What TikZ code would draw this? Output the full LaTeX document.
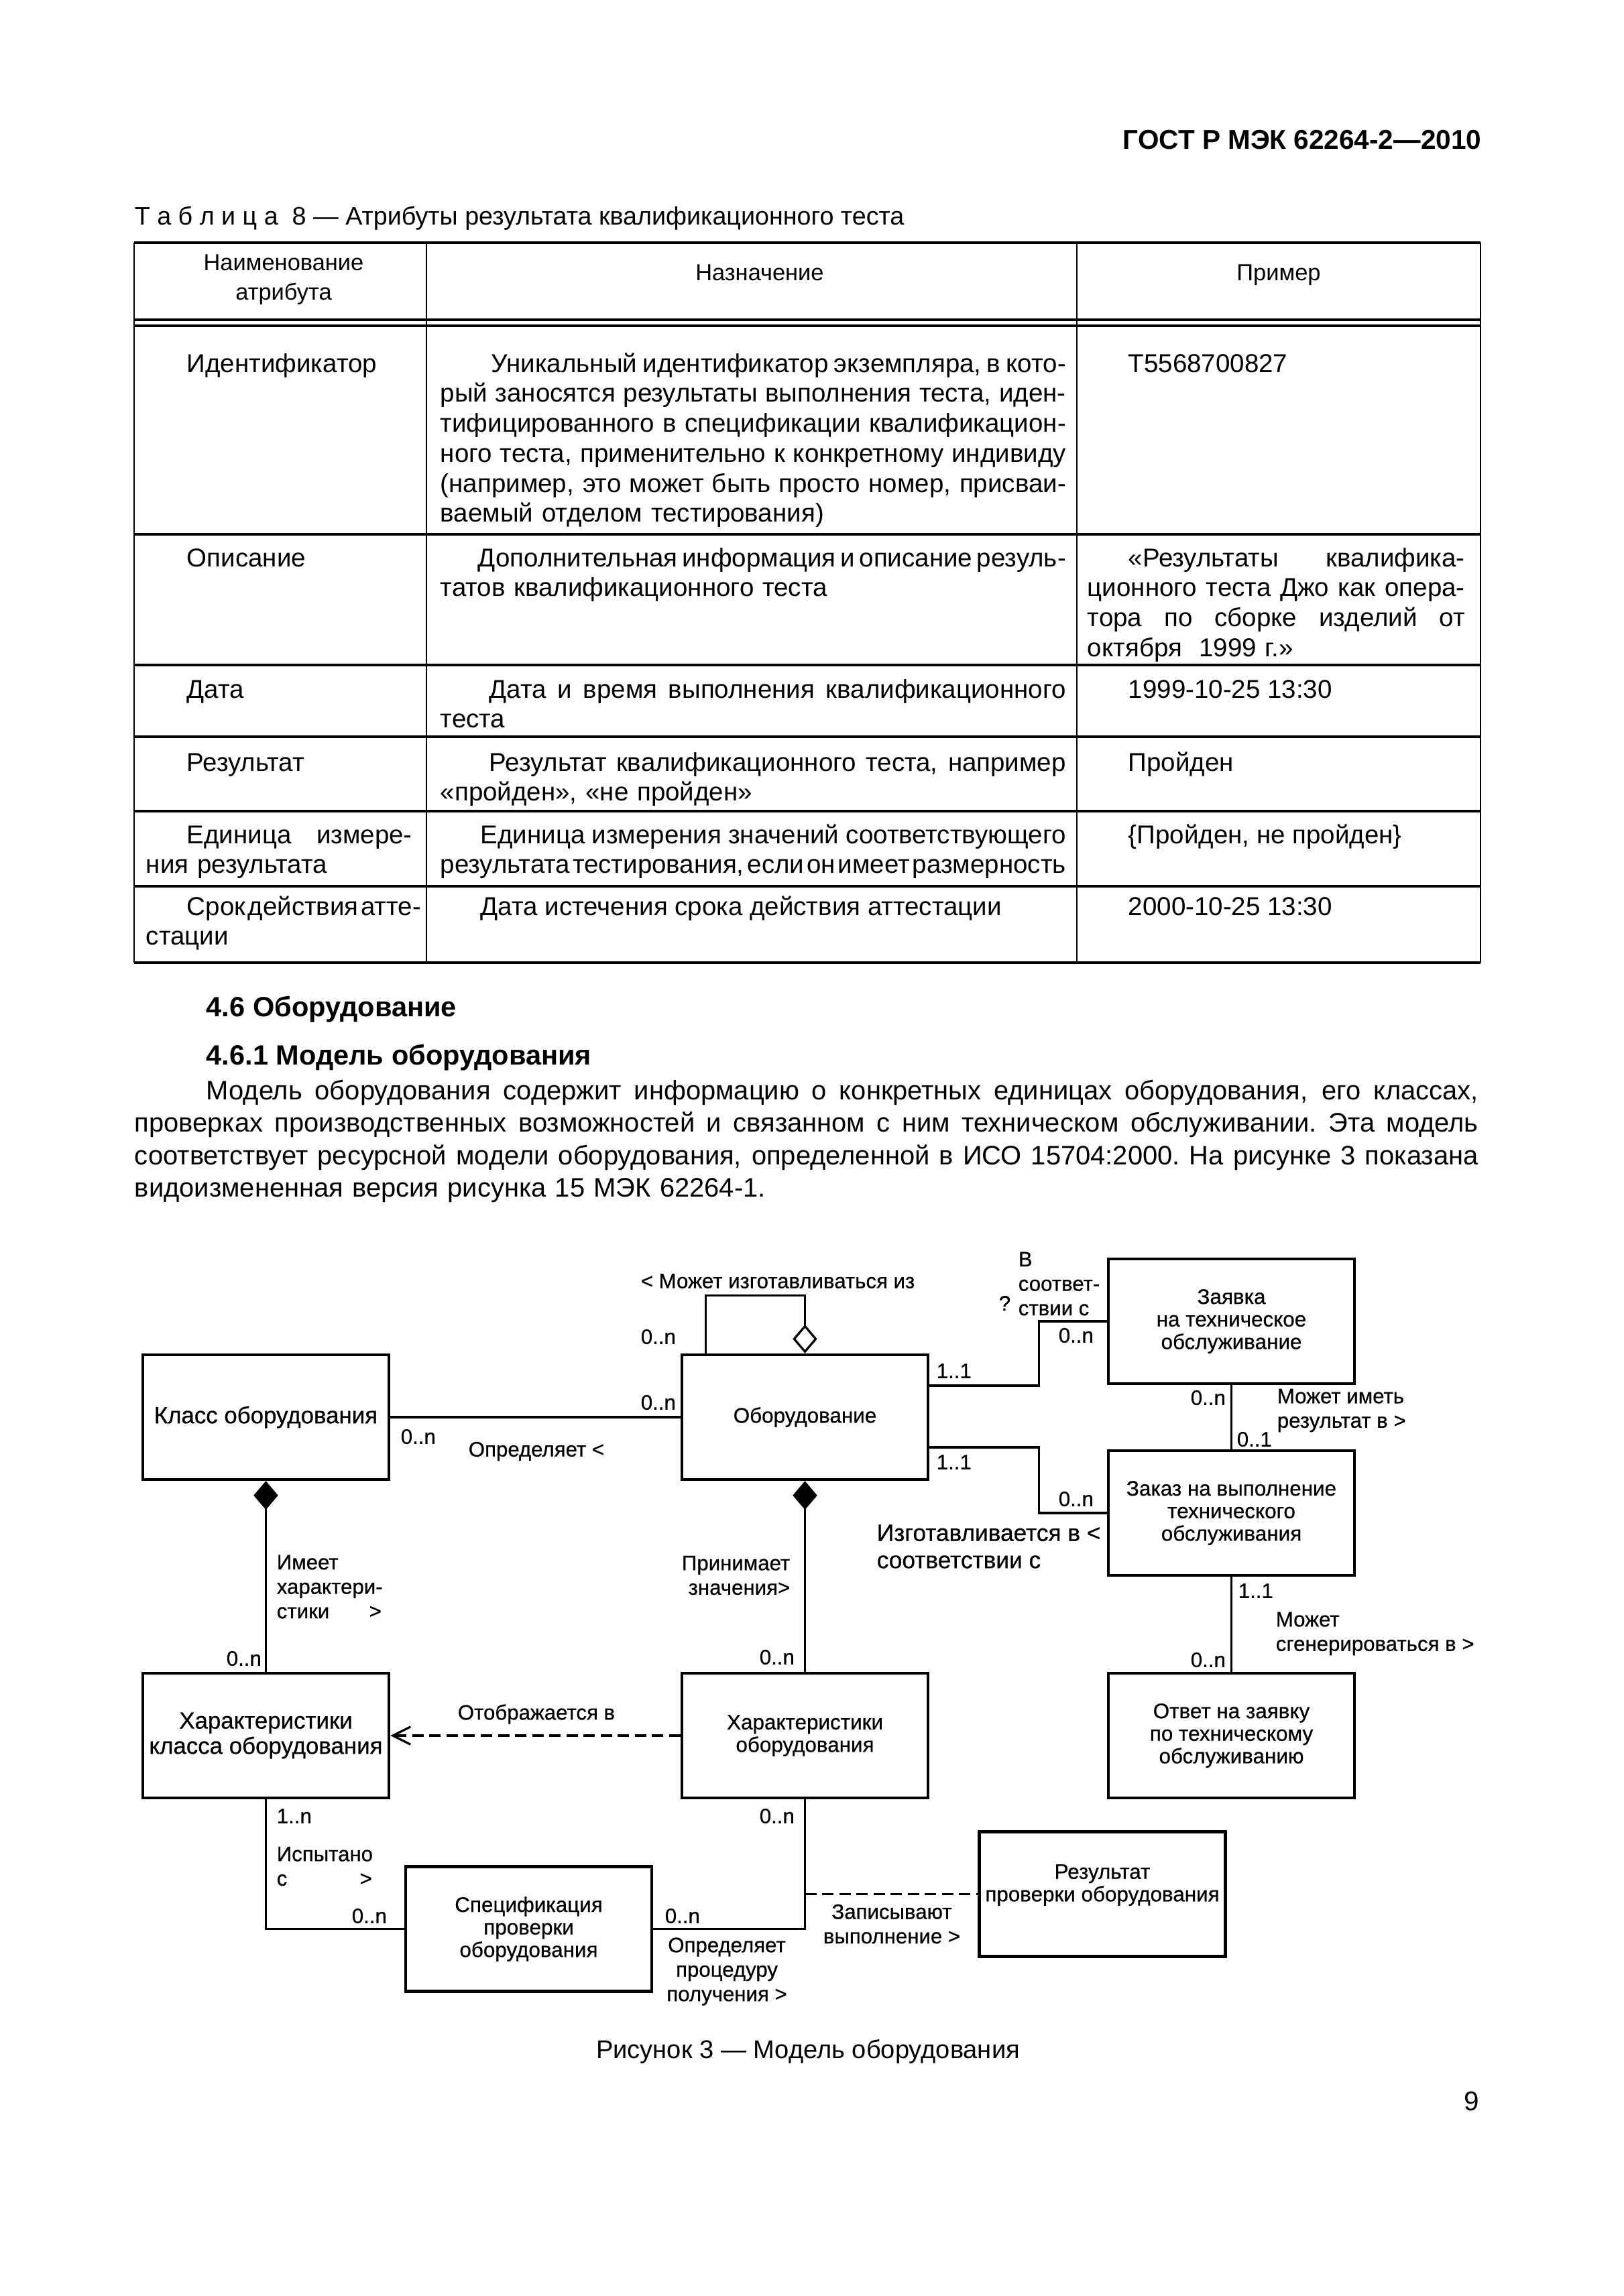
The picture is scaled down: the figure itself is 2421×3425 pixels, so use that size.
\documentclass[tikz,border=0pt]{standalone}
\usepackage{fontspec}
\setmainfont{Liberation Sans}
\newfontfamily\diafont[FakeBold=0.6]{Liberation Sans}
\usetikzlibrary{arrows.meta,calc}
\newlength\pxu \setlength\pxu{0.08674mm}
% justified lines of the table columns and of the text
\newcommand\jfill{\spaceskip=0.25em plus 1fill minus 0.16em\relax\xspaceskip=\spaceskip\relax}
\newcommand\ja[1]{\makebox[397\pxu][s]{\jfill#1}}
\newcommand\jb[1]{\makebox[933\pxu][s]{\jfill#1}}
\newcommand\jc[1]{\makebox[563\pxu][s]{\jfill#1}}
\newcommand\jw[1]{\makebox[2004\pxu][s]{\jfill#1}}
\tikzset{
  txt/.style={inner sep=0pt, anchor=base west},
  cell/.style={txt, align=left, font=\fontsize{9.5}{11.05}\selectfont},
  hcell/.style={inner sep=0pt, anchor=base, align=center, text width=436\pxu, font=\fontsize{8.5}{11.05}\selectfont},
  rule/.style={line width=0.9pt},
  vrule/.style={line width=0.6pt},
  cls/.style={draw, line width=1.1pt, minimum width=367\pxu, minimum height=186\pxu,
    inner sep=0pt, align=center, font=\diafont\fontsize{7.75}{8.3}\selectfont},
  bigcls/.style={cls, font=\diafont\fontsize{8.6}{9.3}\selectfont},
  lbl/.style={inner sep=0pt, anchor=west, align=left, font=\diafont\fontsize{7.7}{9}\selectfont},
  assoc/.style={line width=0.8pt},
  cmp/.style={assoc, {Diamond[length=10.6pt,width=9pt]}-},
  agg/.style={assoc, -{Diamond[open,length=10.6pt,width=9pt]}},
  dep/.style={assoc, dash pattern=on 4.2pt off 2.1pt}
}
\begin{document}
\begin{tikzpicture}[x=0.08674mm, y=-0.08674mm]
\fill[white] (0,0) rectangle (2421,3425);
\useasboundingbox (0,0) rectangle (2421,3425);

\node[anchor=base east, inner sep=0pt, font=\bfseries\fontsize{10}{12}\selectfont] (gost) at (2210,222) {ГОСТ Р МЭК 62264-2—2010};

% table 8
\node[txt, font=\fontsize{9.3}{12}\selectfont] (tcap) at (200,335) {Т а б л и ц а\ \ 8 — Атрибуты результата квалификационного теста};
\draw[rule] (200,362) -- (2208,362);
\draw[rule] (200,477) -- (2208,477);
\draw[rule] (200,486) -- (2208,486);
\foreach \y in {797,992,1099,1210,1322,1436}
  \draw[rule] (200,\y) -- (2208,\y);
\foreach \x in {200,636,1606,2208}
  \draw[vrule] (\x,362) -- (\x,1436);
\node[hcell] (hname) at (423,403) {Наименование\\атрибута};
\node[hcell] (hpurp) at (1133,418) {Назначение};
\node[hcell] (hexam) at (1907,418) {Пример};

\node[cell] (a1) at (278,555) {Идентификатор};
\node[cell, text width=933\pxu] (b1) at (656,555) {\jb{\hspace*{76\pxu}Уникальный идентификатор экземпляра, в кото-}\\
  \jb{рый заносятся результаты выполнения теста, иден-}\\
  \jb{тифицированного в спецификации квалификацион-}\\
  \jb{ного теста, применительно к конкретному индивиду}\\
  \jb{(например, это может быть просто номер, присваи-}\\
  ваемый отделом тестирования)};
\node[cell] (c1) at (1682,555) {T5568700827};

\node[cell] (a2) at (278,845) {Описание};
\node[cell, text width=933\pxu] (b2) at (656,845) {\jb{\hspace*{56\pxu}Дополнительная информация и описание резуль-}\\
  татов квалификационного теста};
\node[cell, text width=563\pxu] (c2) at (1621,845) {\jc{\hspace*{61\pxu}«Результаты квалифика-}\\
  \jc{ционного теста Джо как опера-}\\
  \jc{тора по сборке изделий от}\\
  октября\ \ 1999 г.»};

\node[cell] (a3) at (278,1041) {Дата};
\node[cell, text width=933\pxu] (b3) at (656,1041) {\jb{\hspace*{73\pxu}Дата и время выполнения квалификационного}\\
  теста};
\node[cell] (c3) at (1682,1041) {1999-10-25 13:30};

\node[cell] (a4) at (278,1150) {Результат};
\node[cell, text width=933\pxu] (b4) at (656,1150) {\jb{\hspace*{73\pxu}Результат квалификационного теста, например}\\
  «пройден»,\ «не пройден»};
\node[cell] (c4) at (1682,1150) {Пройден};

\node[cell, text width=397\pxu] (a5) at (217,1258) {\ja{\hspace*{61\pxu}Единица измере-}\\
  ния результата};
\node[cell, text width=933\pxu] (b5) at (656,1258) {\jb{\hspace*{60\pxu}Единица измерения значений соответствующего}\\
  \jb{результата тестирования, если он имеет размерность}};
\node[cell] (c5) at (1682,1258) {\{Пройден,\ не пройден\}};

\node[cell, text width=397\pxu] (a6) at (217,1365) {\ja{\hspace*{61\pxu}Срок действия атте-}\\
  стации};
\node[cell] (b6) at (716,1365) {Дата истечения срока действия аттестации};
\node[cell] (c6) at (1682,1365) {2000-10-25 13:30};

% text
\node[txt, font=\bfseries\fontsize{10.25}{12}\selectfont] (h46) at (307,1516) {4.6 Оборудование};
\node[txt, font=\bfseries\fontsize{10.25}{12}\selectfont] (h461) at (307,1588) {4.6.1 Модель оборудования};
\node[txt, align=left, text width=2004\pxu, font=\fontsize{9.85}{12}\selectfont] (par) at (200,1640) {%
  \jw{\hspace*{107\pxu}Модель оборудования содержит информацию о конкретных единицах оборудования, его классах,}\\
  \jw{проверках производственных возможностей и связанном с ним техническом обслуживании. Эта модель}\\
  \jw{соответствует ресурсной модели оборудования, определенной в ИСО 15704:2000. На рисунке 3 показана}\\
  видоизмененная версия рисунка 15 МЭК 62264-1.};

% figure 3
\node[bigcls] (eqclass) at (396.5,2114) {Класс оборудования};
\node[cls] (equip) at (1200.5,2114) {Оборудование};
\node[cls] (request) at (1836.5,1971) {Заявка\\на техническое\\обслуживание};
\node[cls] (order) at (1836.5,2257) {Заказ на выполнение\\технического\\обслуживания};
\node[bigcls] (clschar) at (396.5,2589) {Характеристики\\класса оборудования};
\node[cls] (eqchar) at (1200.5,2589) {Характеристики\\оборудования};
\node[cls] (answer) at (1836.5,2589) {Ответ на заявку\\по техническому\\обслуживанию};
\node[cls] (spec) at (788.5,2877.5) {Спецификация\\проверки\\оборудования};
\node[cls] (result) at (1644,2825.5) {Результат\\проверки оборудования\\\mbox{}};

\draw[assoc] (eqclass.east) -- (equip.west);
\draw[agg] ($(equip.north)+(-148,0)$) -- ++(0,-86) -| (equip.north);
\draw[assoc] ($(equip.east)+(0,-47)$) -- ++(163,0) |- (request.west);
\draw[assoc] ($(equip.east)+(0,45)$) -- ++(163,0) |- (order.west);
\draw[assoc] (request.south) -- (order.north);
\draw[assoc] (order.south) -- (answer.north);
\draw[cmp] (eqclass.south) -- (clschar.north);
\draw[cmp] (equip.south) -- (eqchar.north);
\draw[dep, -{Straight Barb[length=6.5pt,width=6.5pt]}] (eqchar.west) -- (clschar.east);
\draw[assoc] (clschar.south) |- (spec.west);
\draw[assoc] (spec.east) -| (eqchar.south);
\draw[dep] (eqchar.south |- result.west) -- (result.west);

\node[lbl] (lmade) at (955,1911) {< Может изготавливаться из};
\node[lbl] (mloop) at (955,1994) {0..n};
\node[lbl] (meqa) at (955,2092) {0..n};
\node[lbl] (mcla) at (597,2143) {0..n};
\node[lbl] (ldef) at (698,2165) {Определяет <};
\node[lbl] (lhas) at (412,2367) {Имеет\\характери-\\\makebox[156\pxu][l]{стики\hfill>}};
\node[lbl] (mclb) at (337,2474) {0..n};
\node[lbl, anchor=east, align=right] (ltake) at (1179,2350) {Принимает\\значения>};
\node[lbl] (meqb) at (1132,2472) {0..n};
\node[lbl] (mreqa) at (1396,2045) {1..1};
\node[lbl] (mreqb) at (1578,1992) {0..n};
\node[lbl] (laccq) at (1489,1944) {?};
\node[lbl] (lacc) at (1518,1915) {В\\соответ-\\ствии с};
\node[lbl] (mora) at (1396,2181) {1..1};
\node[lbl] (morb) at (1578,2236) {0..n};
\node[lbl, font=\diafont\fontsize{8.7}{10}\selectfont] (lmadein) at (1307,2307) {Изготавливается в <\\соответствии с};
\node[lbl] (mrqo) at (1775,2085) {0..n};
\node[lbl] (mrqp) at (1844,2147) {0..1};
\node[lbl] (lres) at (1904,2104) {Может иметь\\результат в >};
\node[lbl] (moan) at (1846,2373) {1..1};
\node[lbl] (lgen) at (1902,2437) {Может\\сгенерироваться в >};
\node[lbl] (mano) at (1775,2476) {0..n};
\node[lbl] (lshow) at (682,2557) {Отображается в};
\node[lbl] (mcsa) at (412,2709) {1..n};
\node[lbl] (ltest) at (412,2784) {Испытано\\\makebox[142\pxu][l]{с\hfill>}};
\node[lbl] (mcsb) at (524,2858) {0..n};
\node[lbl] (mspa) at (991,2858) {0..n};
\node[lbl, anchor=center, align=center] (lproc) at (1084,2941) {Определяет\\процедуру\\получения >};
\node[lbl] (mecs) at (1132,2709) {0..n};
\node[lbl, anchor=center, align=center] (lrec) at (1330,2870) {Записывают\\выполнение >};

\node[anchor=base, inner sep=0pt, font=\fontsize{9.4}{12}\selectfont] (fig) at (1205,3070) {Рисунок 3 — Модель оборудования};
\node[anchor=base east, inner sep=0pt, font=\fontsize{10}{12}\selectfont] (page) at (2207,3148) {9};
\end{tikzpicture}
\end{document}
